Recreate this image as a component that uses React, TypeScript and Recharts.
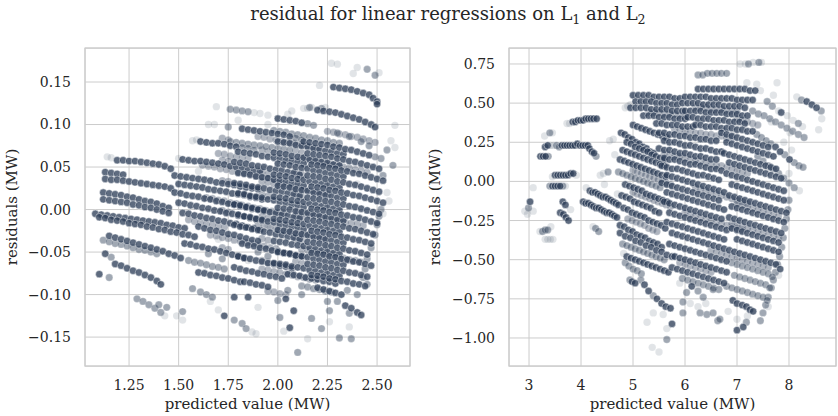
import React from 'react';
import { ScatterChart, Scatter, XAxis, YAxis, CartesianGrid, ReferenceArea } from 'recharts';

// left panel: x in hundredths, y in thousandths (MW)
const leftCol1Dark = [
  [119,58],[122,58],[125,57],[128,57],[131,56],[134,55],[137,54],[140,53],[143,51],[146,48],
  [113,44],[116,43],[119,42],[122,41],
  [113,36],[116,35],[119,35],[122,34],[125,33],[128,32],[131,31],[134,30],[137,29],[140,28],[143,27],[146,25],
  [112,20],[115,19],[118,18],[121,17],[124,15],[127,14],[130,12],[133,10],[136,9],[139,7],[142,4],[145,2],
  [112,12],[115,11],[118,10],[121,9],[124,8],[127,6],[130,5],[133,3],[136,2],[139,0],[142,-2],[145,-4],
  [108,-5],[111,-6],[114,-7],[117,-8],[120,-9],[123,-10],[126,-11],[129,-12],[132,-13],[135,-14],[138,-15],[141,-16],[144,-18],[147,-19],[150,-21],[153,-22],
  [110,-9],[113,-10],[116,-12],[119,-13],[122,-14],[125,-16],[128,-17],[131,-18],[134,-20],[137,-21],[140,-23],[143,-24],[146,-26],[149,-27],[152,-29],[155,-30],[158,-32],
  [115,-31],[118,-33],[121,-35],[124,-37],[127,-39],[130,-41],[133,-43],[136,-45],[139,-47],[142,-49],[145,-52],[148,-54],[151,-57],
  [118,-64],[121,-66],[124,-69],[127,-72],[130,-74],[133,-77],[136,-80],[139,-84],[141,-88],
  [113,-52],[110,-76],
];

const leftCol2Dark = [
  [161,80],[164,79],[167,78],[170,78],[173,77],[176,75],[179,74],
  [152,59],[155,58],[158,57],[161,57],[164,56],[167,55],[170,54],[173,53],[176,51],[179,50],[182,49],[185,47],[188,46],[191,45],
  [148,40],[151,39],[154,38],[157,37],[160,36],[163,35],[166,34],[169,32],[172,31],[175,30],[178,29],[181,27],[184,26],[187,25],[190,24],
  [150,30],[153,29],[156,28],[159,27],[162,26],[165,24],[168,23],[171,22],[174,21],[177,19],[180,18],[183,17],[186,15],[189,14],[192,12],
  [148,20],[151,19],[154,17],[157,16],[160,15],[163,13],[166,12],[169,10],[172,9],[175,7],[178,6],[181,4],[184,3],[187,1],[190,0],[193,-2],
  [150,8],[153,7],[156,5],[159,4],[162,2],[165,1],[168,-1],[171,-2],[174,-4],[177,-5],[180,-7],[183,-8],[186,-10],[189,-11],[192,-13],
  [152,-4],[155,-5],[158,-7],[161,-8],[164,-10],[167,-11],[170,-13],[173,-14],[176,-16],[179,-17],[182,-19],[185,-21],[188,-22],[191,-24],
  [160,-20],[163,-22],[166,-24],[169,-25],[172,-27],[175,-29],[178,-30],[181,-32],[184,-34],[187,-36],[190,-37],
  [153,-40],[156,-41],[159,-43],[162,-44],[165,-46],[168,-47],[171,-49],[174,-51],[177,-53],[180,-55],[183,-57],
  [160,-74],[163,-75],[166,-77],[169,-78],[172,-80],[175,-81],[178,-83],[181,-85],
];

const leftCol3Dark = [
  [182,95],[185,94],[188,93],[191,92],[194,91],[197,90],[200,89],[203,88],[206,86],
  [180,68],[183,67],[186,66],[189,65],[192,63],[195,62],[198,61],[201,60],[204,58],[207,57],[210,56],[213,54],
  [178,56],[181,55],[184,54],[187,52],[190,51],[193,50],[196,48],[199,47],[202,46],[205,44],[208,43],[211,41],
  [180,43],[183,42],[186,41],[189,39],[192,38],[195,37],[198,35],[201,34],[204,33],[207,31],[210,30],[213,28],
  [178,31],[181,30],[184,29],[187,27],[190,26],[193,25],[196,23],[199,22],[202,21],[205,19],[208,18],[211,16],
  [180,19],[183,18],[186,16],[189,15],[192,14],[195,12],[198,11],[201,9],[204,8],[207,6],[210,5],[213,3],
  [178,6],[181,5],[184,3],[187,2],[190,0],[193,-1],[196,-3],[199,-4],[202,-6],[205,-7],[208,-9],[211,-10],
  [180,-6],[183,-8],[186,-9],[189,-11],[192,-12],[195,-14],[198,-15],[201,-17],[204,-18],[207,-20],[210,-21],[213,-23],
  [178,-18],[181,-20],[184,-21],[187,-23],[190,-24],[193,-26],[196,-27],[199,-29],[202,-30],[205,-32],[208,-33],[211,-35],
  [182,-40],[185,-42],[188,-43],[191,-45],[194,-46],[197,-48],[200,-49],[203,-51],[206,-52],[209,-54],[212,-55],
  [180,-55],[183,-57],[186,-58],[189,-60],[192,-61],[195,-63],[198,-64],[201,-66],[204,-67],[207,-69],
  [178,-68],[181,-70],[184,-72],[187,-73],[190,-75],[193,-76],[196,-78],[199,-79],[202,-81],
  [183,-85],[186,-86],[189,-88],[192,-89],[195,-91],
  [173,-125],[178,-103],[185,-103],
];

const leftCol4Dark = [
  [200,107],[203,106],[206,105],[209,104],[212,102],
  [200,80],[203,79],[206,78],[209,76],[212,75],[215,74],[218,72],[221,71],[224,69],[227,68],[230,66],[233,65],
  [198,67],[201,66],[204,65],[207,63],[210,62],[213,61],[216,59],[219,58],[222,56],[225,55],[228,53],[231,52],
  [200,54],[203,53],[206,52],[209,50],[212,49],[215,48],[218,46],[221,45],[224,43],[227,42],[230,40],[233,39],
  [198,41],[201,40],[204,39],[207,37],[210,36],[213,35],[216,33],[219,32],[222,30],[225,29],[228,27],[231,26],
  [200,28],[203,27],[206,26],[209,24],[212,23],[215,22],[218,20],[221,19],[224,17],[227,16],[230,14],[233,13],
  [198,15],[201,14],[204,13],[207,11],[210,10],[213,9],[216,7],[219,6],[222,4],[225,3],[228,1],[231,0],
  [200,2],[203,1],[206,0],[209,-2],[212,-3],[215,-4],[218,-6],[221,-7],[224,-9],[227,-10],[230,-12],[233,-13],
  [198,-11],[201,-12],[204,-13],[207,-15],[210,-16],[213,-17],[216,-19],[219,-20],[222,-22],[225,-23],[228,-25],[231,-26],
  [200,-24],[203,-25],[206,-26],[209,-28],[212,-29],[215,-30],[218,-32],[221,-33],[224,-35],[227,-36],[230,-38],[233,-39],
  [198,-37],[201,-38],[204,-39],[207,-41],[210,-42],[213,-43],[216,-45],[219,-46],[222,-48],[225,-49],[228,-51],[231,-52],
  [200,-50],[203,-51],[206,-52],[209,-54],[212,-55],[215,-56],[218,-58],[221,-59],[224,-61],[227,-62],[230,-64],[233,-65],
  [198,-63],[201,-64],[204,-65],[207,-67],[210,-68],[213,-69],[216,-71],[219,-72],[222,-74],[225,-75],[228,-77],[231,-78],
  [205,-76],[208,-77],[211,-78],[214,-80],[217,-81],[220,-82],[223,-84],[226,-85],[229,-87],
  [204,-105],[208,-119],[206,-139],
];

const leftCol5Dark = [
  [228,144],[231,143],[234,142],[237,141],[240,139],[243,137],[246,135],[248,131],[250,127],[250,124],
  [220,117],[223,116],[226,115],[229,114],[232,112],[235,110],[238,108],[241,106],[244,103],[247,100],[249,97],
  [213,80],[216,79],[219,78],[222,77],[225,76],[228,74],[231,73],[234,71],[237,70],[240,68],[243,66],[246,64],
  [215,66],[218,65],[221,64],[224,63],[227,62],[230,60],[233,59],[236,57],[239,56],[242,54],[245,52],[248,50],[251,48],
  [217,53],[220,52],[223,51],[226,49],[229,48],[232,46],[235,45],[238,43],[241,42],[244,40],[247,38],[250,36],[253,34],
  [215,40],[218,39],[221,38],[224,36],[227,35],[230,33],[233,32],[236,30],[239,29],[242,27],[245,25],[248,23],[251,21],
  [217,27],[220,26],[223,25],[226,23],[229,22],[232,20],[235,19],[238,17],[241,16],[244,14],[247,12],[250,10],[253,8],
  [215,14],[218,13],[221,12],[224,10],[227,9],[230,7],[233,6],[236,4],[239,3],[242,1],[245,-1],[248,-3],[251,-5],
  [217,1],[220,0],[223,-1],[226,-3],[229,-4],[232,-6],[235,-7],[238,-9],[241,-10],[244,-12],[247,-14],[250,-16],
  [215,-12],[218,-13],[221,-14],[224,-16],[227,-17],[230,-19],[233,-20],[236,-22],[239,-23],[242,-25],[245,-27],[248,-29],
  [217,-25],[220,-26],[223,-27],[226,-29],[229,-30],[232,-32],[235,-33],[238,-35],[241,-36],[244,-38],[247,-40],
  [215,-38],[218,-39],[221,-40],[224,-42],[227,-43],[230,-45],[233,-46],[236,-48],[239,-49],[242,-51],[245,-53],
  [217,-51],[220,-52],[223,-53],[226,-55],[229,-56],[232,-58],[235,-59],[238,-61],[241,-62],[244,-64],[247,-66],
  [215,-64],[218,-65],[221,-66],[224,-68],[227,-69],[230,-71],[233,-72],[236,-74],[239,-75],[242,-77],[245,-79],
  [217,-77],[220,-78],[223,-79],[226,-81],[229,-82],[232,-84],[235,-85],[238,-87],[241,-88],[244,-90],
  [220,-92],[223,-94],[226,-96],[229,-98],[232,-100],
  [234,-113],[237,-116],[240,-121],[242,-124],
];

const leftMid = [
  [112,-36],[115,-38],[118,-40],[121,-41],[124,-43],[127,-45],[130,-47],[133,-48],[136,-50],[139,-52],
  [155,-60],[158,-62],[161,-63],[164,-65],[167,-67],[170,-68],[173,-70],
  [176,80],[179,79],[182,78],[185,77],[188,76],[191,75],[194,74],[197,73],[200,72],[203,71],[206,70],
  [198,93],[201,92],[204,91],[207,89],[210,88],[213,87],[216,85],[219,84],[222,82],[225,81],[228,79],[231,78],
  [212,-90],[215,-91],[218,-93],[221,-94],[224,-96],[227,-97],
  [249,62],[252,60],[252,0],[251,-8],[250,-18],[249,-30],[247,-45],[245,-58],[244,-70],[243,-80],
  [176,118],[179,117],[182,116],[185,115],[175,97],[216,120],[222,119],[245,165],[249,158],
  [129,-105],[132,-108],[135,-112],[138,-116],[141,-121],
  [116,-56],[115,-80],[140,-112],[144,-115],[152,-120],[157,-93],[161,-97],[164,-100],[167,-103],
  [178,-130],[182,-134],[184,-140],[200,-107],[201,-127],[217,-128],[222,-140],[226,-119],[231,-151],[236,-122],
  [258,52],[253,40],[255,70],[188,70],[185,72],[182,73],[209,84],[212,82],[215,101],[218,99],[230,-108],
  [165,-52],[172,-58],[190,-50],[195,-55],[205,-95],[212,-100],[225,-108],[235,-95],[240,-100],[245,-88],
  [230,90],[236,86],[242,80],[246,75],[210,-168],[237,-152],
];

// in-between strands and staggered strand heads in the dense middle of the left panel
const leftFill = [
  [162,52],[165,51],[168,50],[171,48],[174,47],[177,45],[180,44],[183,43],[186,41],[189,40],[192,38],[195,37],[198,36],[201,34],
  [164,14],[167,13],[170,11],[173,10],[176,8],[179,7],[182,5],[185,4],[188,2],[191,1],[194,-1],[197,-2],[200,-4],[203,-5],
  [166,-30],[169,-31],[172,-33],[175,-34],[178,-36],[181,-37],[184,-39],[187,-40],[190,-42],[193,-43],[196,-45],[199,-46],
  [190,86],[193,85],[196,83],[199,82],[202,80],[205,79],[208,78],[211,76],[214,75],[217,73],[220,72],
  [192,33],[195,32],[198,30],[201,29],[204,28],[207,26],[210,25],[213,23],[216,22],[219,20],[222,19],[225,18],
  [190,-18],[193,-19],[196,-21],[199,-22],[202,-24],[205,-25],[208,-27],[211,-28],[214,-30],[217,-31],[220,-33],[223,-34],
  [192,-70],[195,-71],[198,-73],[201,-74],[204,-76],[207,-77],[210,-79],[213,-80],[216,-82],[219,-83],
  [212,60],[215,59],[218,57],[221,56],[224,54],[227,53],[230,52],[233,50],[236,49],[239,47],[242,46],[245,44],
  [210,-3],[213,-4],[216,-6],[219,-7],[222,-9],[225,-10],[228,-12],[231,-13],[234,-15],[237,-16],[240,-17],[243,-19],
  [212,-47],[215,-48],[218,-50],[221,-51],[224,-53],[227,-54],[230,-56],[233,-57],[236,-59],[239,-60],[242,-62],
  [155,-12],[158,-14],[161,-15],[164,-17],[167,-18],[170,-19],[173,-21],
  [225,92],[228,91],[231,89],[234,88],[237,86],[240,85],[243,83],[246,81],[249,79],
  [170,66],[173,65],[176,63],[179,62],[182,61],[185,60],
  [195,-96],[198,-97],[201,-99],[204,-100],
  [192,70],[195,68],[192,44],[195,42],[192,18],[195,16],[192,-8],[195,-10],[192,-34],[195,-36],[192,-60],[195,-62],
  [209,69],[212,67],[209,43],[212,41],[209,17],[212,15],[209,-9],[212,-10],[209,-35],[212,-37],[209,-61],[212,-63],
  [172,84],[175,82],[172,58],[175,57],[172,34],[175,33],[172,-1],[175,-3],[172,-45],[175,-47],
];

const leftLight = [
  [114,62],[116,61],[150,60],[157,81],[159,82],[169,121],[165,100],[168,100],[188,114],[191,113],[195,111],
  [215,119],[217,120],[224,120],[227,172],[230,171],[240,167],[251,161],[238,160],[221,146],[259,99],[257,81],[259,73],
  [143,-125],[149,-125],[152,-130],[166,-108],[170,-118],[187,-144],[189,-146],[190,-115],[203,-143],[215,-152],[236,-138],
  [253,-5],[255,20],[256,10],[195,100],[205,112],[180,105],[207,116],[213,119],
  [185,-60],[170,-35],[195,-20],[225,-45],[240,30],[205,60],[160,45],[235,-60],[226,-132],
];

// right panel: x in hundredths, y in hundredths (MW)
const rightLeftDark = [
  [384,38],[389,38],[394,39],[399,39],[404,39],[409,40],[414,40],[419,40],[424,40],[430,40],
  [331,22],[336,23],[363,23],[368,23],[373,23],[378,23],[383,23],[388,23],[393,24],[398,23],[403,23],[408,23],[413,23],
  [416,21],[421,19],[425,18],
  [322,16],[327,16],[332,16],
  [350,4],[355,4],[360,4],[365,4],[370,4],[375,4],[380,5],[385,5],
  [345,-3],[350,-3],[355,-3],[360,-3],
  [302,-13],
  [365,-13],[370,-15],[360,-20],[366,-21],[371,-23],[376,-25],
  [417,-6],[422,-7],[427,-7],[432,-8],[437,-9],[442,-10],[447,-10],[452,-11],[457,-12],[462,-13],[467,-14],[472,-15],
  [404,-13],[409,-14],[414,-14],[419,-15],[424,-16],[429,-17],[434,-17],[439,-18],[444,-19],[449,-20],[454,-20],[459,-21],[464,-22],[469,-23],
];

const rightMainDark = [
  [500,55],[510,55],[520,55],[530,55],[540,54],[550,54],[560,54],[570,54],[580,53],[590,53],
  [505,51],[515,51],[525,51],[535,51],[545,50],[555,50],[565,50],[575,49],[585,49],
  [495,47],[505,47],[515,47],[525,47],[535,46],[545,46],[555,46],[565,46],[575,45],[585,45],[595,45],
  [520,42],[530,42],[540,42],[550,41],[560,41],[570,41],[580,40],[590,40],[600,40],
  [545,37],[555,37],[565,36],[575,36],[585,36],[595,35],[605,35],[615,35],
  [500,36],[508,35],[516,34],[524,33],[532,32],[540,31],[548,30],[556,29],[564,28],
  [477,31],[484,30],[491,28],[498,27],[505,25],[512,24],[519,22],[526,21],[533,19],[540,18],
  [488,25],[496,24],[504,22],[512,21],[520,20],[528,19],[536,17],[544,16],[552,15],[560,14],
  [480,20],[488,19],[496,18],[504,17],[512,16],[520,15],[528,14],[536,13],[544,12],[552,11],[560,10],
  [475,14],[483,13],[491,12],[499,11],[507,10],[515,9],[523,8],[531,7],[539,6],[547,5],[555,4],[563,3],
  [485,-2],[493,-3],[501,-4],[509,-5],[517,-6],[525,-8],[533,-9],[541,-10],[549,-11],[557,-12],[565,-13],
  [478,-9],[486,-10],[494,-11],[502,-13],[510,-14],[518,-15],[526,-16],[534,-17],[542,-19],[550,-20],
  [482,-17],[490,-18],[498,-20],[506,-21],[514,-22],[522,-23],[530,-25],[538,-26],[546,-27],[554,-28],[562,-30],
  [475,-28],[483,-29],[491,-31],[499,-32],[507,-34],[515,-35],[523,-36],[531,-38],[539,-39],[547,-40],[555,-42],
  [475,-33],[485,-35],[495,-36],[505,-38],[515,-39],[525,-41],[535,-42],[545,-44],[555,-45],[565,-47],[575,-48],
  [488,-48],[496,-49],[504,-50],[512,-51],[520,-52],[528,-53],[536,-54],[544,-55],[552,-56],[560,-57],[568,-58],
  [498,-64],[504,-65],[522,-66],[530,-70],[546,-75],[555,-78],[563,-80],[572,-81],[575,-91],[613,-67],
];

const rightUpperDark = [
  [625,59],[635,59],[645,59],[655,59],[665,59],[675,59],[685,59],[695,59],[705,59],[715,59],[725,58],[735,58],
  [600,54],[610,54],[620,54],[630,54],[640,54],[650,53],[660,53],[670,53],[680,53],[690,53],[700,52],[710,52],[720,52],[730,52],
  [595,50],[605,50],[615,50],[625,50],[635,49],[645,49],[655,49],[665,49],[675,48],[685,48],[695,48],[705,48],[715,47],
  [600,45],[610,45],[620,45],[630,45],[640,44],[650,44],[660,44],[670,44],[680,43],[690,43],[700,43],[710,42],[720,42],
  [605,41],[615,41],[625,40],[635,40],[645,40],[655,39],[665,39],[675,39],[685,38],[695,38],[705,38],[715,37],
  [620,36],[630,36],[640,35],[650,35],[660,35],[670,34],[680,34],[690,34],[700,33],[710,33],[720,32],[730,32],
  [550,31],[560,31],[570,30],[580,30],[590,29],[600,29],[610,28],[620,28],[630,27],[640,27],[650,26],[660,26],
  [560,26],[570,25],[580,25],[590,24],[600,23],[610,23],[620,22],[630,21],[640,21],[650,20],[660,19],[670,19],
  [550,21],[560,20],[570,20],[580,19],[590,18],[600,18],[610,17],[620,16],[630,16],[640,15],[650,14],[660,14],
  [560,15],[570,14],[580,14],[590,13],[600,12],[610,11],[620,11],[630,10],[640,9],[650,8],[660,8],[670,7],
  [555,10],[565,9],[575,8],[585,8],[595,7],[605,6],[615,5],[625,4],[635,4],[645,3],[655,2],[665,1],
  [670,31],[680,30],[690,29],[700,28],[710,27],[720,26],[730,25],[740,24],[750,23],[760,22],
  [680,25],[690,24],[700,23],[710,22],[720,21],[730,20],[740,19],[750,18],[760,17],[770,16],
  [675,18],[685,17],[695,16],[705,15],[715,14],[725,13],[735,12],[745,11],[755,10],[765,9],[775,8],
  [685,12],[695,11],[705,10],[715,9],[725,8],[735,7],[745,6],[755,5],[765,4],[775,3],[785,2],
];

const rightLowerDark = [
  [565,4],[575,3],[585,2],[595,1],[605,0],[615,-1],[625,-2],[635,-3],[645,-4],[655,-5],[665,-6],[675,-7],
  [555,-1],[565,-2],[575,-3],[585,-4],[595,-5],[605,-6],[615,-7],[625,-8],[635,-9],[645,-10],[655,-11],[665,-12],
  [565,-7],[575,-8],[585,-9],[595,-10],[605,-11],[615,-12],[625,-13],[635,-14],[645,-15],[655,-16],[665,-17],[675,-18],
  [560,-13],[570,-14],[580,-15],[590,-16],[600,-17],[610,-18],[620,-19],[630,-20],[640,-21],[650,-22],[660,-23],[670,-24],
  [570,-20],[580,-21],[590,-22],[600,-23],[610,-24],[620,-25],[630,-26],[640,-27],[650,-28],[660,-29],[670,-30],[680,-31],
  [565,-26],[575,-27],[585,-28],[595,-29],[605,-30],[615,-31],[625,-32],[635,-33],[645,-34],[655,-35],[665,-36],[675,-37],
  [575,-33],[585,-34],[595,-35],[605,-36],[615,-37],[625,-38],[635,-39],[645,-40],[655,-41],[665,-42],[675,-43],[685,-44],[695,-45],[705,-46],
  [570,-40],[580,-41],[590,-42],[600,-43],[610,-44],[620,-45],[630,-46],[640,-47],[650,-48],[660,-49],[670,-50],[680,-51],
  [580,-48],[590,-49],[600,-50],[610,-51],[620,-52],[630,-53],[640,-54],[650,-55],[660,-56],[670,-57],[680,-58],
  [575,-55],[585,-56],[595,-57],[605,-58],[615,-59],[625,-60],[635,-61],[645,-62],[655,-63],[665,-64],[675,-65],
  [680,5],[690,4],[700,3],[710,2],[720,1],[730,0],[740,-1],[750,-2],[760,-3],[770,-4],[780,-5],[790,-6],
  [690,-2],[700,-3],[710,-4],[720,-5],[730,-6],[740,-7],[750,-8],[760,-9],[770,-10],[780,-11],[790,-12],
  [685,-9],[695,-10],[705,-11],[715,-12],[725,-13],[735,-14],[745,-15],[755,-16],[765,-17],[775,-18],[785,-19],[795,-20],
  [690,-16],[700,-17],[710,-18],[720,-19],[730,-20],[740,-21],[750,-22],[760,-23],[770,-24],[780,-25],[790,-26],
  [685,-23],[695,-24],[705,-25],[715,-26],[725,-27],[735,-28],[745,-29],[755,-30],[765,-31],[775,-32],[785,-33],
  [690,-30],[700,-31],[710,-32],[720,-33],[730,-34],[740,-35],[750,-36],[760,-37],[770,-38],[780,-39],
  [700,-37],[710,-38],[720,-39],[730,-40],[740,-41],[750,-42],[760,-43],[770,-44],[780,-45],
  [715,-47],[725,-48],[735,-49],[745,-50],[755,-51],[765,-52],[775,-53],[783,-56],
  [692,-76],[700,-78],[710,-79],[718,-80],[725,-82],[731,-83],[700,-95],[712,-93],
  [834,51],[844,49],[853,47],[785,44],[774,22],[783,19],[801,14],
];

const rightMid = [
  [429,16],[353,23],[358,22],[337,16],[340,31],[340,-3],[365,-3],[299,-17],[326,-32],[331,-31],[336,-31],[428,-30],[434,-32],[452,6],
  [472,6],[480,5],[488,4],[496,3],[504,2],[512,1],[520,0],[528,-1],[536,-2],[544,-3],[552,-4],
  [480,-40],[488,-41],[496,-42],[504,-43],[512,-44],[520,-45],[528,-46],[536,-47],[544,-48],[552,-49],[560,-50],
  [485,-52],[492,-54],[500,-56],[508,-57],[516,-59],
  [625,68],[634,68],[643,69],[652,69],[661,69],[670,69],[680,69],[722,75],[742,76],
  [824,52],[862,45],[758,51],[768,48],[818,37],
  [730,45],[741,43],[752,42],[763,40],[774,38],[785,36],[796,34],[807,32],[818,30],[829,28],
  [738,30],[747,28],[756,26],[765,24],[792,17],[810,12],[819,10],[827,9],
  [740,16],[750,13],[760,10],[770,8],[780,5],[790,2],[800,-1],[810,-4],
  [800,-12],[798,-18],[795,-24],[792,-30],[789,-36],[786,-42],[782,-48],[778,-53],[774,-58],[770,-63],[766,-68],[760,-74],[755,-79],[750,-84],[745,-89],
  [595,-62],[605,-63],[615,-64],[625,-65],[635,-66],[645,-67],[655,-68],[665,-69],
  [690,-52],[700,-53],[710,-54],[720,-55],[730,-56],[740,-57],[750,-58],[760,-59],[768,-61],
  [695,-60],[705,-61],[715,-62],[725,-63],[735,-64],[745,-65],[755,-66],[763,-68],
  [680,-67],[690,-68],[700,-69],[710,-70],[720,-71],[730,-72],[740,-73],[750,-74],[758,-76],
  [515,-63],[494,-63],[539,-73],[565,-101],[596,-84],[596,-77],[603,-71],[625,-70],[635,-74],[642,-85],
  [654,-69],[663,-89],[667,-88],[629,-84],[654,-84],[718,-90],
];

// in-between strands that fill the dense middle of the right panel
const rightFill = [
  [530,44],[540,44],[550,44],[560,43],[570,43],[580,43],[590,42],[600,42],
  [580,33],[590,33],[600,32],[610,32],[620,31],[630,31],[640,30],[650,30],[660,29],[670,29],[680,28],[690,28],
  [620,47],[630,47],[640,47],[650,46],[660,46],[670,46],[680,45],[690,45],[700,45],
  [500,-7],[508,-8],[516,-9],[524,-10],[532,-11],[540,-12],[548,-13],[556,-14],[564,-15],[572,-16],
  [500,7],[508,6],[516,5],[524,4],[532,3],[540,2],[548,1],[556,0],[564,-1],[572,-2],
  [620,-4],[630,-5],[640,-6],[650,-7],[660,-8],[670,-9],[680,-10],[690,-11],[700,-12],[710,-13],[720,-14],
  [600,-20],[610,-21],[620,-22],[630,-23],[640,-24],[650,-25],[660,-26],[670,-27],[680,-28],[690,-29],[700,-30],[710,-31],
  [630,13],[640,12],[650,11],[660,10],[670,10],[680,9],[690,8],[700,7],[710,6],[720,5],
  [650,-44],[660,-45],[670,-46],[680,-47],[690,-48],[700,-49],[710,-50],[720,-51],[730,-52],[740,-53],[750,-54],[760,-55],
  [590,-52],[600,-53],[610,-54],[620,-55],[630,-56],[640,-57],[650,-58],
  [700,40],[710,39],[720,38],[730,37],[740,36],
  [560,18],[570,17],[580,16],[590,16],[600,15],[610,14],[620,13],
  [690,-27],[700,-28],[710,-29],[720,-30],[730,-31],[740,-32],[750,-33],[760,-34],[770,-35],[780,-36],
  [700,-14],[710,-15],[720,-16],[730,-17],[740,-18],[750,-19],[760,-20],[770,-21],[780,-22],
  [490,-24],[498,-25],[506,-26],[514,-27],[522,-28],[530,-30],[538,-31],[546,-32],
];

const rightLight = [
  [373,37],[378,37],[341,23],[347,23],[345,31],[330,29],[345,3],[391,4],[370,-3],[308,-4],[292,-19],[308,-19],[297,-21],
  [380,-18],[331,-37],[336,-37],[341,-37],[346,-37],[321,-32],[342,-29],[423,-29],[410,-4],[437,4],[443,5],
  [455,26],[462,27],[465,17],[445,-2],
  [745,58],[706,75],[716,75],[731,76],[747,76],[719,63],[738,62],[777,63],[815,54],[797,42],[808,39],[826,35],
  [766,38],[802,31],[820,-6],[863,40],[857,33],[490,48],[495,49],[485,47],[470,-8],[482,-46],
  [539,-84],[558,-85],[565,-94],[527,-90],[537,-106],[550,-109],[625,-80],[683,-83],
  [590,-65],[610,-78],[640,-78],[700,-88],[720,-86],[760,-80],[780,-60],[800,5],[805,20],[790,25],[780,45],[770,55],
];

const leftXTicks = [1.25, 1.5, 1.75, 2.0, 2.25, 2.5];
const leftYTicks = [-0.15, -0.1, -0.05, 0, 0.05, 0.1, 0.15];
const rightXTicks = [3, 4, 5, 6, 7, 8];
const rightYTicks = [-1, -0.75, -0.5, -0.25, 0, 0.25, 0.5, 0.75];

const INK = '#2c3d57';
const TEXT = '#262626';
const GRID = '#cccccc';
const FONT = 'DejaVu Serif';

const toPts = (arr: number[][], sx: number, sy: number) => arr.map(([x, y]) => ({ x: x / sx, y: y / sy }));

const signed = (v: number) => (v < 0 ? '\u2212' : '') + Math.abs(v).toFixed(2);

const dot = (alpha: number) => (props: any) => (
  <circle cx={props.cx} cy={props.cy} r={3.7} fill={INK} fillOpacity={alpha}
    stroke="#ffffff" strokeOpacity={alpha} strokeWidth={0.6} />
);

type Pt = { x: number; y: number };

type PanelProps = {
  width: number;
  yAxisWidth: number;
  right: number;
  labelOffset: number;
  xDomain: [number, number];
  yDomain: [number, number];
  xTicks: number[];
  yTicks: number[];
  xFmt: (v: number) => string;
  light: Pt[];
  fill: Pt[];
  mid: Pt[];
  dark: Pt[];
};

const tickStyle = { fill: TEXT, fontSize: 14, fontFamily: FONT };

const Panel = (p: PanelProps) => (
  <ScatterChart width={p.width} height={416} margin={{ top: 48, right: p.right, bottom: 0, left: 0 }}>
    <CartesianGrid stroke={GRID} strokeWidth={1} />
    <XAxis type="number" dataKey="x" domain={p.xDomain} ticks={p.xTicks} interval={0} allowDataOverflow
      tickFormatter={p.xFmt} axisLine={false} tickLine={false} tickSize={0} tickMargin={14} height={50}
      tick={tickStyle}
      label={{ value: 'predicted value (MW)', position: 'insideBottom', offset: 7, style: { fill: TEXT, fontSize: 15, fontFamily: FONT } }} />
    <YAxis type="number" dataKey="y" domain={p.yDomain} ticks={p.yTicks} interval={0} allowDataOverflow
      tickFormatter={signed} axisLine={false} tickLine={false} tickSize={0} tickMargin={14} width={p.yAxisWidth}
      tick={tickStyle}
      label={{ value: 'residuals (MW)', angle: -90, position: 'insideLeft', offset: p.labelOffset, style: { fill: TEXT, fontSize: 15, fontFamily: FONT, textAnchor: 'middle' } }} />
    <ReferenceArea x1={p.xDomain[0]} x2={p.xDomain[1]} y1={p.yDomain[0]} y2={p.yDomain[1]} fill="none" stroke={GRID} strokeWidth={1.25} />
    <Scatter data={p.light} shape={dot(0.14)} isAnimationActive={false} />
    <Scatter data={p.fill} shape={dot(0.38)} isAnimationActive={false} />
    <Scatter data={p.mid} shape={dot(0.45)} isAnimationActive={false} />
    <Scatter data={p.dark} shape={dot(0.76)} isAnimationActive={false} />
  </ScatterChart>
);

export default function App() {
  const leftDark = toPts([...leftCol1Dark, ...leftCol2Dark, ...leftCol3Dark, ...leftCol4Dark, ...leftCol5Dark], 100, 1000);
  const rightDark = toPts([...rightLeftDark, ...rightMainDark, ...rightUpperDark, ...rightLowerDark], 100, 100);
  const subStyle = { fontSize: '0.7em', verticalAlign: '-0.3em', lineHeight: 0 };
  return (
    <div style={{ position: 'absolute', left: 0, top: 0, width: 838, height: 416, background: '#ffffff', fontFamily: FONT }}>
      <div style={{ position: 'absolute', left: 448, top: 3, transform: 'translateX(-50%)', whiteSpace: 'nowrap', fontSize: 18, lineHeight: '22px', color: TEXT }}>
        residual for linear regressions on L<sub style={subStyle}>1</sub> and L<sub style={subStyle}>2</sub>
      </div>
      <div style={{ position: 'absolute', left: 0, top: 0 }}>
        <Panel width={420} yAxisWidth={85} right={10} labelOffset={12}
          xDomain={[1.028, 2.666]} yDomain={[-0.184, 0.19]} xTicks={leftXTicks} yTicks={leftYTicks}
          xFmt={(v) => v.toFixed(2)}
          light={toPts(leftLight, 100, 1000)} fill={toPts(leftFill, 100, 1000)}
          mid={toPts(leftMid, 100, 1000)} dark={leftDark} />
      </div>
      <div style={{ position: 'absolute', left: 420, top: 0 }}>
        <Panel width={418} yAxisWidth={89} right={2} labelOffset={15}
          xDomain={[2.615, 8.904]} yDomain={[-1.179, 0.852]} xTicks={rightXTicks} yTicks={rightYTicks}
          xFmt={(v) => String(v)}
          light={toPts(rightLight, 100, 100)} fill={toPts(rightFill, 100, 100)}
          mid={toPts(rightMid, 100, 100)} dark={rightDark} />
      </div>
    </div>
  );
}
